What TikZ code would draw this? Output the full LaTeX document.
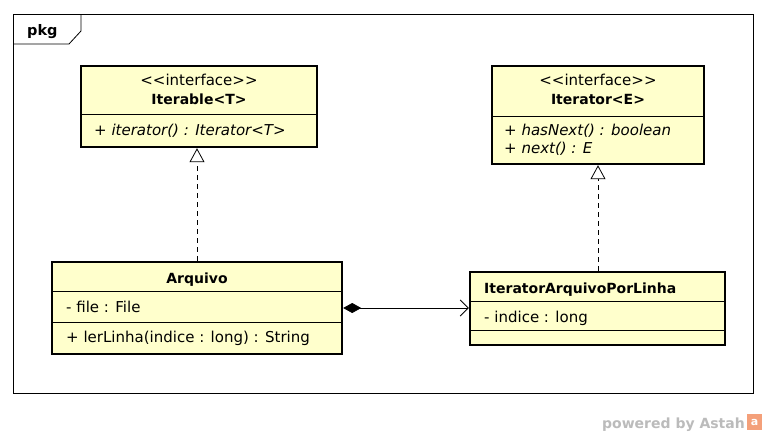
\documentclass[tikz,border=0pt]{standalone}
\usepackage{fontspec}
\setmainfont{DejaVu Sans}
\usetikzlibrary{arrows.meta}
\definecolor{umlfill}{HTML}{FFFFCC}
\definecolor{astahgray}{HTML}{BBBBBB}
\definecolor{astahorange}{HTML}{F4A07A}
\newcommand\lguil{<\kern0pt<}
\newcommand\rguil{>\kern0pt>}
\tikzset{
  umlbox/.style={draw=black, line width=2.4pt, fill=umlfill, inner sep=0pt},
  sepline/.style={line width=0.6pt},
  txt/.style={inner sep=0pt, font=\fontsize{15}{17}\selectfont},
  btxt/.style={inner sep=0pt, font=\fontsize{14}{17}\selectfont\bfseries},
  itxt/.style={inner sep=0pt, font=\fontsize{15}{17}\selectfont\itshape},
  realize/.style={dashed, dash pattern=on 5pt off 4pt, line width=0.8pt, -{Triangle[open, length=14pt, width=15pt, line width=0.8pt]}},
  compo/.style={line width=0.8pt, {Diamond[length=18pt, width=10pt]}-{Straight Barb[length=8pt, width=16pt, line width=0.8pt]}},
}
\begin{document}
\begin{tikzpicture}[x=1pt, y=-1pt]
\useasboundingbox (0,0) rectangle (768,434);
\fill[white] (0,0) rectangle (768,434);
% package frame
\node[draw, line width=0.8pt, minimum width=740pt, minimum height=379pt, inner sep=0pt] (frame) at (383,203.5) {};
\draw[line width=0.8pt] (13,44) -- (69,44) -- (81,31) -- (81,14);
\node[btxt, font=\fontsize{14.5}{16}\selectfont\bfseries, anchor=base west] (pkg) at (27,35) {pkg};

% Iterable
\node[umlbox, minimum width=236pt, minimum height=81pt] (iterable) at (199,106.5) {};
\draw[sepline] (81,114) -- (317,114);
\node[txt, anchor=base] (it1) at (199,85) {\lguil interface\rguil};
\node[btxt, anchor=base] (it2) at (199,104) {Iterable<T>};
\node[itxt, anchor=base west] (it3) at (94,135) {+ iterator() : Iterator<T>};

% Iterator
\node[umlbox, minimum width=212pt, minimum height=98pt] (iterator) at (598,115) {};
\draw[sepline] (492,116) -- (704,116);
\node[txt, anchor=base] (ir1) at (598,85) {\lguil interface\rguil};
\node[btxt, anchor=base] (ir2) at (598,104) {Iterator<E>};
\node[itxt, anchor=base west] (ir3) at (504,135) {+ hasNext() : boolean};
\node[itxt, anchor=base west] (ir4) at (504,153) {+ next() : E};

% Arquivo
\node[umlbox, minimum width=290pt, minimum height=92pt] (arquivo) at (197,308) {};
\draw[sepline] (52,291) -- (342,291);
\draw[sepline] (52,322) -- (342,322);
\node[btxt, anchor=base] (ar1) at (197,283) {Arquivo};
\node[txt, anchor=base west] (ar2) at (66,312) {- file : File};
\node[txt, anchor=base west] (ar3) at (66,342) {+ lerLinha(indice : long) : String};

% IteratorArquivoPorLinha
\node[umlbox, minimum width=255pt, minimum height=73pt] (iapl) at (597.5,308.5) {};
\draw[sepline] (470,301) -- (725,301);
\draw[sepline] (470,330) -- (725,330);
\node[btxt, anchor=base west] (ia1) at (484,293) {IteratorArquivoPorLinha};
\node[txt, anchor=base west] (ia2) at (484,322) {- indice : long};

% connectors
\draw[realize] (arquivo.north) -- (arquivo.north |- iterable.south);
\draw[realize] (iapl.north -| iterator.south) -- (iterator.south);
\draw[compo] (arquivo.east) -- (arquivo.east -| iapl.west);

% footer
\node[btxt, anchor=base east, text=astahgray, font=\fontsize{14}{16}\selectfont\bfseries] (powered) at (745,428) {powered by Astah};
\node[fill=astahorange, minimum width=15pt, minimum height=16pt, inner sep=0pt, text=white, font=\fontsize{11}{11}\selectfont\bfseries] (logo) at (754.5,422) {a};
\end{tikzpicture}
\end{document}
